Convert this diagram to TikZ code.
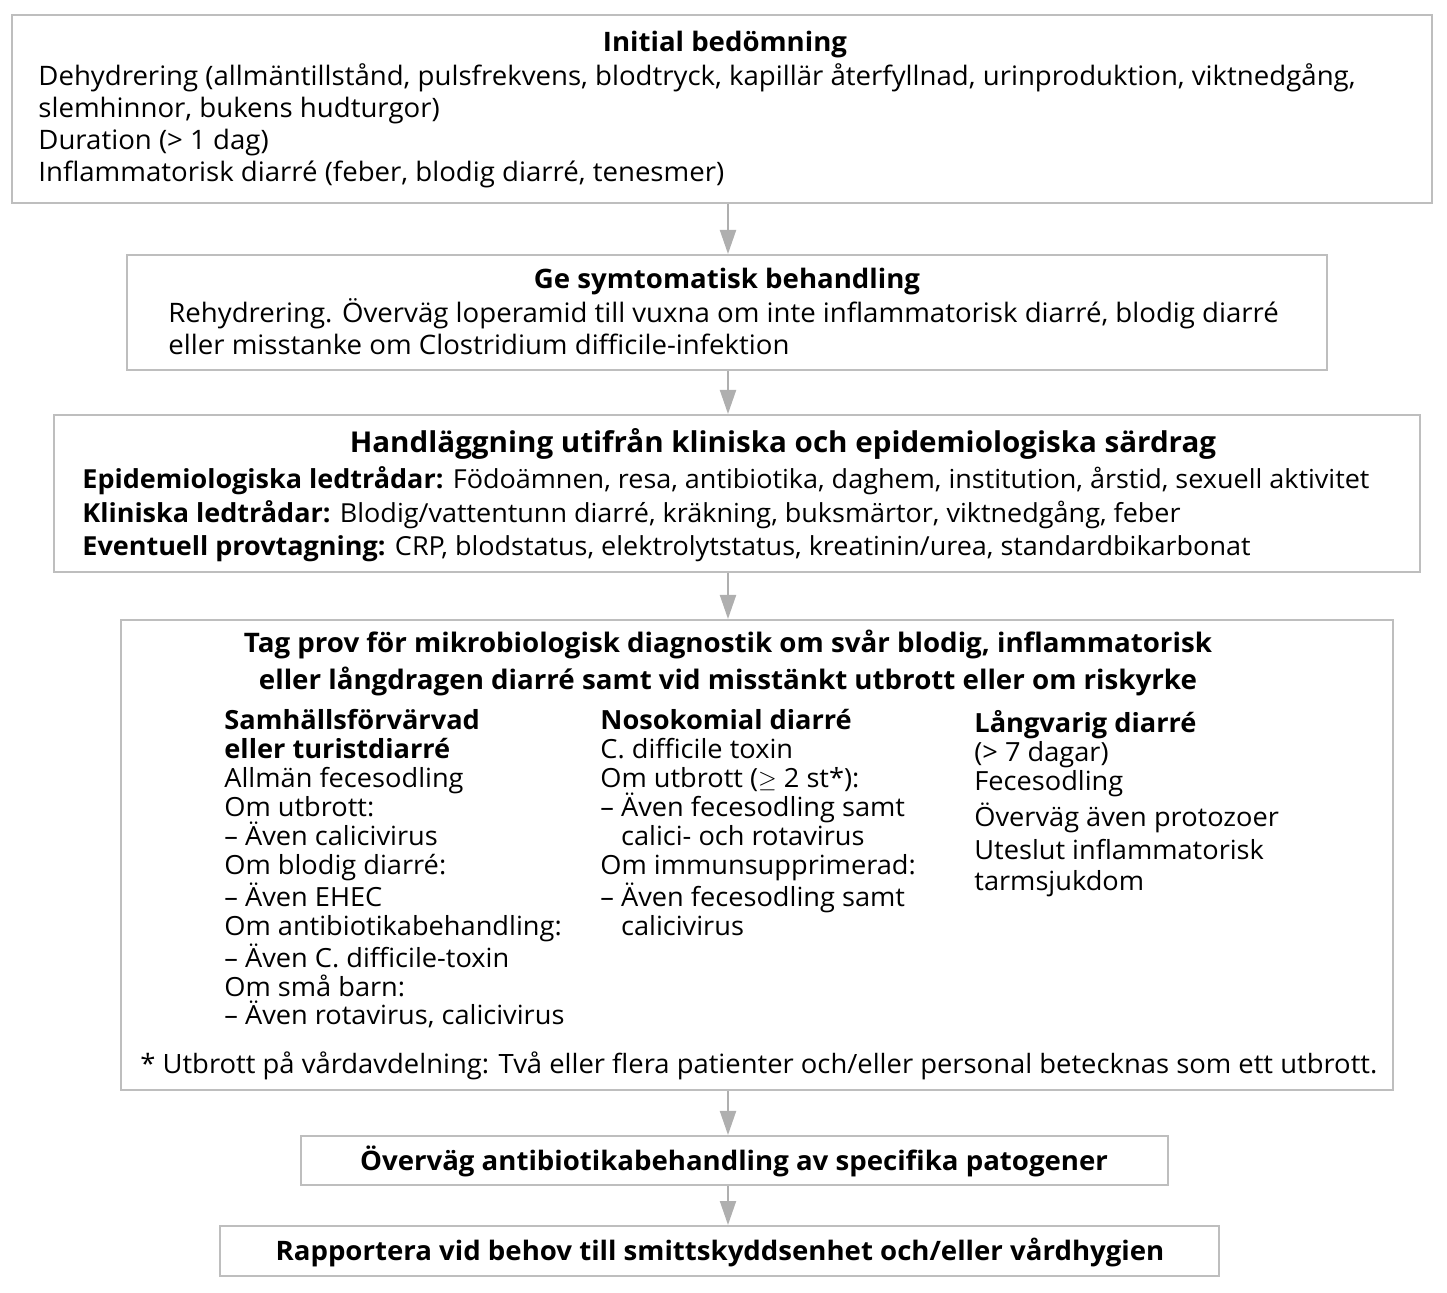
\documentclass[tikz,border=0pt]{standalone}
\usepackage{fontspec}
\setmainfont{Open Sans}[FakeStretch=1.03]
\usetikzlibrary{arrows.meta,fit}
\definecolor{boxgray}{RGB}{190,190,190}
\definecolor{arrgray}{RGB}{175,175,175}
\begin{document}
\begin{tikzpicture}[x=0.5pt,y=-0.5pt,
  box/.style={draw=boxgray, line width=1pt, inner sep=0pt, rectangle},
  arr/.style={draw=arrgray, line width=1pt, -{Triangle[width=8pt,length=12pt,fill=arrgray]}},
  txt/.style={inner sep=0pt, align=left, anchor=base west, font=\fontsize{13.4}{16}\selectfont},
  coltxt/.style={inner sep=0pt, align=left, anchor=base west, font=\fontsize{13.2}{14.55}\selectfont},
  ttl/.style={inner sep=0pt, align=center, anchor=base, font=\bfseries\fontsize{13.4}{16}\selectfont}]
\useasboundingbox (0,0) rectangle (1447,1293);
% box corners
\coordinate (b1a) at (12,15);   \coordinate (b1b) at (1432,203);
\coordinate (b2a) at (127,255); \coordinate (b2b) at (1327,370);
\coordinate (b3a) at (54,415);  \coordinate (b3b) at (1420,572);
\coordinate (b4a) at (121,620); \coordinate (b4b) at (1393,1090);
\coordinate (b5a) at (301,1136);\coordinate (b5b) at (1168,1185);
\coordinate (b6a) at (220,1226);\coordinate (b6b) at (1219,1276);
\node[box, fit=(b1a)(b1b)] (b1) {};
\node[box, fit=(b2a)(b2b)] (b2) {};
\node[box, fit=(b3a)(b3b)] (b3) {};
\node[box, fit=(b4a)(b4b)] (b4) {};
\node[box, fit=(b5a)(b5b)] (b5) {};
\node[box, fit=(b6a)(b6b)] (b6) {};
\coordinate (ax) at (728,0);
\draw[arr] (b1.south -| ax) -- (b2.north -| ax);
\draw[arr] (b2.south -| ax) -- (b3.north -| ax);
\draw[arr] (b3.south -| ax) -- (b4.north -| ax);
\draw[arr] (b4.south -| ax) -- (b5.north -| ax);
\draw[arr] (b5.south -| ax) -- (b6.north -| ax);
% box 1
\node[ttl] (t1) at (725,52) {Initial bedömning};
\node[txt] (x1) at (38,182) {Dehydrering (allmäntillstånd, pulsfrekvens, blodtryck, kapillär återfyllnad, urinproduktion, viktnedgång,\\slemhinnor, bukens hudturgor)\\Duration (> 1 dag)\\Inflammatorisk diarré (feber, blodig diarré, tenesmer)};
% box 2
\node[ttl] (t2) at (727,289) {Ge symtomatisk behandling};
\node[txt] (x2) at (168,355) {Rehydrering. Överväg loperamid till vuxna om inte inflammatorisk diarré, blodig diarré\\eller misstanke om Clostridium difficile-infektion};
% box 3
\node[ttl, font=\bfseries\fontsize{14.35}{16}\selectfont] (t3) at (783,453) {Handläggning utifrån kliniska och epidemiologiska särdrag};
\node[txt, font=\fontsize{13.1}{16.75}\selectfont] (x3) at (82,556) {\textbf{Epidemiologiska ledtrådar:} Födoämnen, resa, antibiotika, daghem, institution, årstid, sexuell aktivitet\\\textbf{Kliniska ledtrådar:} Blodig/vattentunn diarré, kräkning, buksmärtor, viktnedgång, feber\\\textbf{Eventuell provtagning:} CRP, blodstatus, elektrolytstatus, kreatinin/urea, standardbikarbonat};
% box 4
\node[ttl, font=\bfseries\fontsize{13.45}{18.5}\selectfont] (t4) at (728,690) {Tag prov för mikrobiologisk diagnostik om svår blodig, inflammatorisk\\eller långdragen diarré samt vid misstänkt utbrott eller om riskyrke};
\node[coltxt, font=\fontsize{13.2}{14.5}\selectfont] (c1) at (224,1025) {\textbf{Samhällsförvärvad}\\\textbf{eller turistdiarré}\\Allmän fecesodling\\Om utbrott:\\– Även calicivirus\\Om blodig diarré:\\– Även EHEC\\Om antibiotikabehandling:\\– Även C. difficile-toxin\\Om små barn:\\– Även rotavirus, calicivirus};
\node[coltxt] (c2) at (600,936) {\textbf{Nosokomial diarré}\\C. difficile toxin\\Om utbrott ($\geq$ 2 st*):\\– Även fecesodling samt\\\hphantom{– }calici- och rotavirus\\Om immunsupprimerad:\\– Även fecesodling samt\\\hphantom{– }calicivirus};
\node[coltxt] (c3) at (974,891) {\textbf{Långvarig diarré}\\(> 7 dagar)\\Fecesodling\\[2pt]Överväg även protozoer\\[2pt]Uteslut inflammatorisk\\[1pt]tarmsjukdom};
\node[txt, font=\fontsize{13.3}{16}\selectfont] (fn) at (140,1073) {* Utbrott på vårdavdelning: Två eller flera patienter och/eller personal betecknas som ett utbrott.};
% box 5, 6
\node[ttl] (t5) at (734,1170) {Överväg antibiotikabehandling av specifika patogener};
\node[ttl] (t6) at (720,1260) {Rapportera vid behov till smittskyddsenhet och/eller vårdhygien};
\end{tikzpicture}
\end{document}
